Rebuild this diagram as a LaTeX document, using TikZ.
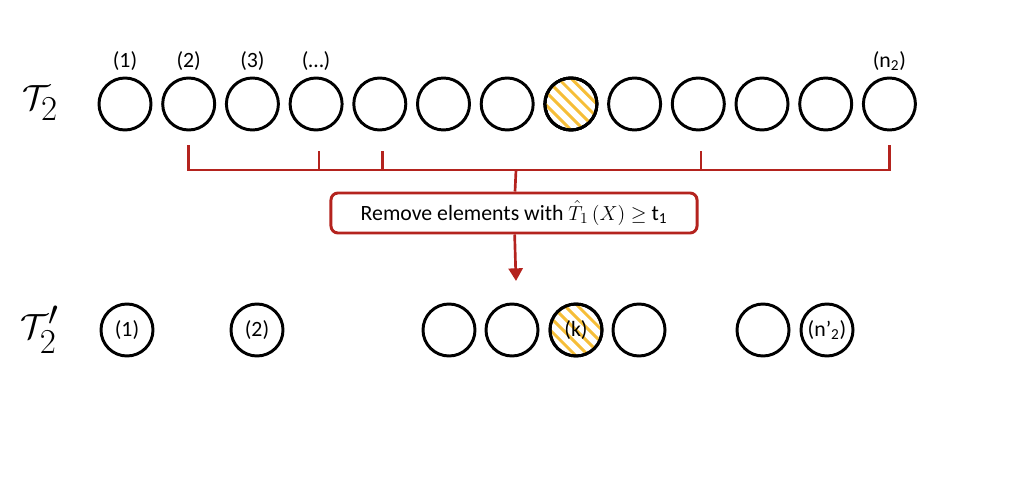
\documentclass[tikz,border=0pt]{standalone}
\usepackage{amsmath}
\usepackage{fontspec}
\setmainfont{Carlito}
\usepackage{tikz}
\usetikzlibrary{positioning,arrows.meta}
\definecolor{colorrule}  {RGB}{180,35,30}
\definecolor{colorhatch} {RGB}{246,190,56}

\begin{document}
\begin{tikzpicture}[
    x=0.025cm, y=-0.025cm,
    font={\fontsize{15.5}{18}\selectfont},
    elem/.style={circle,draw,line width=2.1pt,minimum size=1.3cm,inner sep=0pt},
    hatched/.style={path picture={
        \foreach \i in {-5,...,5}
            \draw[colorhatch,line width=2.1pt,shift={(path picture bounding box.center)}]
                (\i*4.6pt-1cm,\i*4.6pt+1cm) -- ++(2cm,-2cm);}},
    idx/.style={inner sep=1pt},
    setname/.style={font={\fontsize{40}{46}\selectfont}},
    bracket/.style={colorrule,line width=1.9pt},
    rule/.style={draw=colorrule,line width=2.1pt,rounded corners=5pt,
        minimum width=9.15cm,minimum height=1cm,inner sep=0pt},
]
    \useasboundingbox (0,0) rectangle (1030,504);

    % original set
    \node[setname] (t2) at (40,103) {$\mathcal{T}_2$};
    \foreach \k in {1,...,13}
        \node[elem] (c\k) at ({125+63.7*(\k-1)},104) {};
    \node[elem,hatched] at (c8) {};
    \draw[line width=2.1pt] (c8) circle (0.65cm);

    \node[idx,above=3pt of c1] (l1) {(1)};
    \node[idx,above=3pt of c2] (l2) {(2)};
    \node[idx,above=3pt of c3] (l3) {(3)};
    \node[idx,above=3pt of c4] (l4) {(\dots)};
    \node[idx,above=3pt of c13] (l13) {(n\textsubscript{2})};

    % selection bracket
    \coordinate (bar) at (516,170);
    \draw[bracket] ([yshift=-0.35cm]c2.south) |- (bar) -| ([yshift=-0.35cm]c13.south);
    \foreach \k in {4,5,10}
        \draw[bracket] ([yshift=-0.5cm,xshift=2pt]c\k.south) -- ([xshift=2pt]c\k |- bar);

    \node[rule] (remove) at (514,213) {Remove elements with $\hat{T}_1\,(X) \geq$ t\textsubscript{1}};
    \draw[bracket] (bar) -- (remove);
    \coordinate (tip) at (516,281);
    \draw[bracket,-{Triangle[width=10pt,length=9pt]}] (remove) -- (tip);

    % reduced set
    \node[setname] (t2p) at (40,330) {$\mathcal{T}'_2$};
    \node[elem] (d1) at (127,330) {(1)};
    \node[elem] (d2) at (257,330) {(2)};
    \node[elem] (d3) at (449,330) {};
    \node[elem] (d4) at (512,330) {};
    \node[elem,hatched] (d5) at (576,330) {};
    \draw[line width=2.1pt] (d5) circle (0.65cm);
    \node at (d5) {(k)};
    \node[elem] (d6) at (639,330) {};
    \node[elem] (d7) at (763,330) {};
    \node[elem] (d8) at (827,330) {(n\textquoteright\textsubscript{2})};

\end{tikzpicture}
\end{document}
